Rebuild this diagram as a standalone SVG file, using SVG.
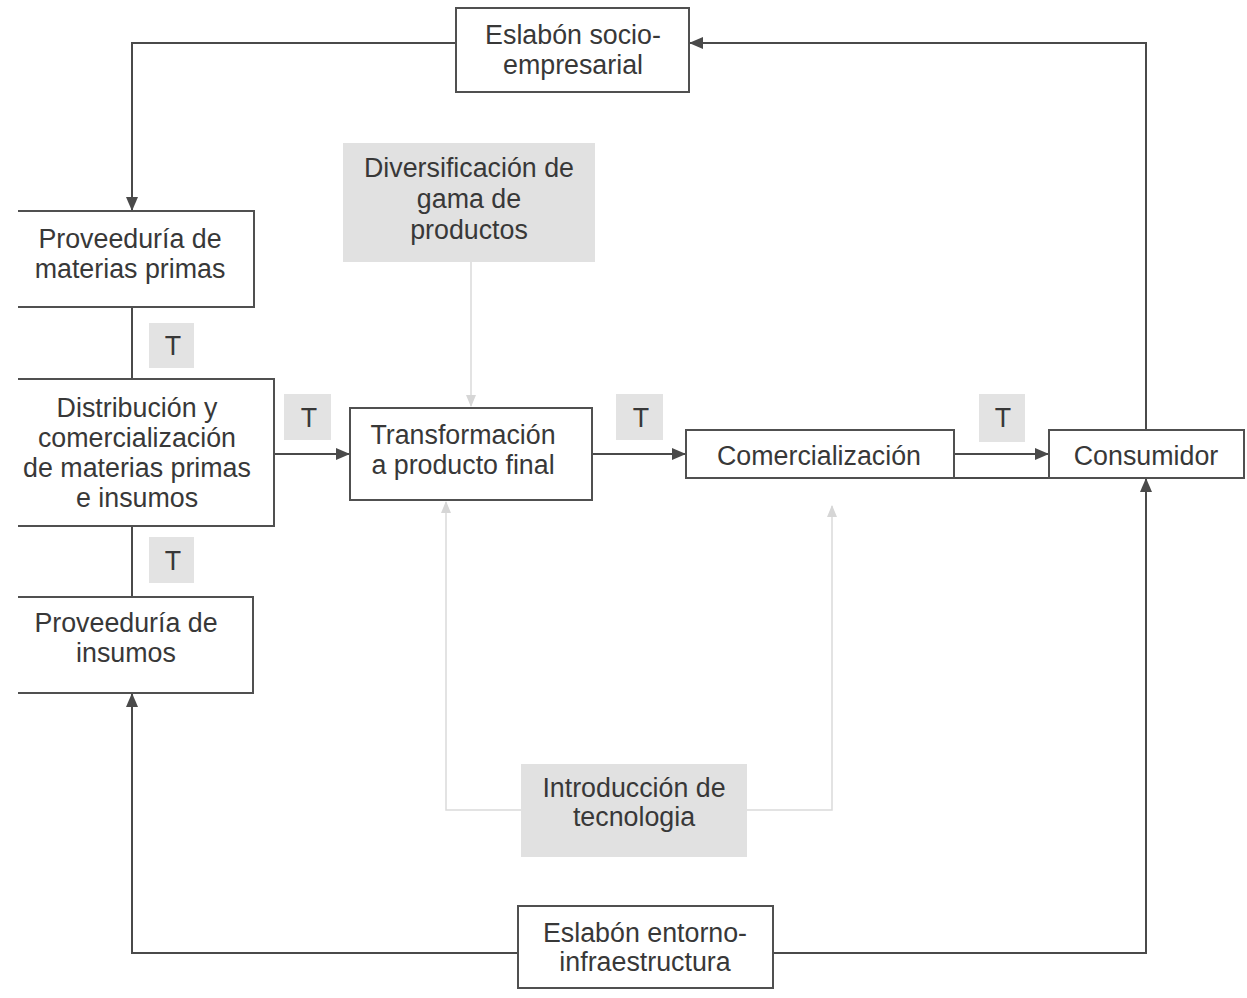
<svg xmlns="http://www.w3.org/2000/svg" width="1247" height="998" viewBox="0 0 1247 998">
<style>
  .box { fill: #ffffff; stroke: #505050; stroke-width: 2; }
  .gbox { fill: #e1e1e1; stroke: none; }
  .tbox { fill: #e3e3e3; stroke: none; }
  .txt { font-family: "Liberation Sans", Arial, sans-serif; font-size: 26.8px; fill: #383838; text-anchor: middle; }
  .conn { fill: none; stroke: #4a4a4a; stroke-width: 2; }
  .light { fill: none; stroke: #dadada; stroke-width: 1.5; }
</style>
<defs>
  <marker id="arr" markerWidth="14" markerHeight="12" refX="13" refY="6" orient="auto" markerUnits="userSpaceOnUse">
    <path d="M0,0 L14,6 L0,12 Z" fill="#4a4a4a"/>
  </marker>
  <marker id="arrL" markerWidth="12" markerHeight="10" refX="11" refY="5" orient="auto" markerUnits="userSpaceOnUse">
    <path d="M0,0 L12,5 L0,10 Z" fill="#d6d6d6"/>
  </marker>
</defs>
<rect width="1247" height="998" fill="#ffffff"/>

<g id="connectors">
  <path class="conn" d="M456,43 H132 V210" marker-end="url(#arr)"/>
  <path class="conn" d="M1146,430 V43 H690" marker-end="url(#arr)"/>
  <path class="conn" d="M132,307 V379"/>
  <path class="conn" d="M132,526 V597"/>
  <path class="conn" d="M518,953 H132 V694" marker-end="url(#arr)"/>
  <path class="conn" d="M773,953 H1146 V479" marker-end="url(#arr)"/>
  <path class="conn" d="M274,454 H349" marker-end="url(#arr)"/>
  <path class="conn" d="M592,454 H685" marker-end="url(#arr)"/>
  <path class="conn" d="M954,454 H1048" marker-end="url(#arr)"/>
  <path class="conn" d="M954,478 H1049" stroke-width="1.5"/>
  <path class="light" d="M471,262 V406" marker-end="url(#arrL)"/>
  <path class="light" d="M521,810 H446 V502" marker-end="url(#arrL)"/>
  <path class="light" d="M747,810 H832 V506" marker-end="url(#arrL)"/>
</g>

<g id="socio">
  <rect class="box" x="456" y="8" width="233" height="84"/>
  <text class="txt" x="573" y="44">Eslabón socio-</text>
  <text class="txt" x="573" y="74">empresarial</text>
</g>

<g id="diversificacion">
  <rect class="gbox" x="343" y="143" width="252" height="119"/>
  <text class="txt" x="469" y="177">Diversificación de</text>
  <text class="txt" x="469" y="208">gama de</text>
  <text class="txt" x="469" y="239">productos</text>
</g>

<g id="prov-materias">
  <path class="box" d="M18,211 H254 V307 H18"/>
  <text class="txt" x="130" y="248">Proveeduría de</text>
  <text class="txt" x="130" y="278">materias primas</text>
</g>

<g id="t1">
  <rect class="tbox" x="149" y="323" width="45" height="45"/>
  <text class="txt" x="173" y="355">T</text>
</g>

<g id="distribucion">
  <path class="box" d="M18,379 H274 V526 H18"/>
  <text class="txt" x="137" y="417">Distribución y</text>
  <text class="txt" x="137" y="447">comercialización</text>
  <text class="txt" x="137" y="477">de materias primas</text>
  <text class="txt" x="137" y="507">e insumos</text>
</g>

<g id="t2">
  <rect class="tbox" x="149" y="537" width="45" height="46"/>
  <text class="txt" x="173" y="570">T</text>
</g>

<g id="prov-insumos">
  <path class="box" d="M18,597 H253 V693 H18"/>
  <text class="txt" x="126" y="632">Proveeduría de</text>
  <text class="txt" x="126" y="662">insumos</text>
</g>

<g id="t3">
  <rect class="tbox" x="284" y="394" width="47" height="46"/>
  <text class="txt" x="309" y="427">T</text>
</g>

<g id="transformacion">
  <rect class="box" x="350" y="408" width="242" height="92"/>
  <text class="txt" x="463" y="444">Transformación</text>
  <text class="txt" x="463" y="474">a producto final</text>
</g>

<g id="t4">
  <rect class="tbox" x="616" y="394" width="47" height="46"/>
  <text class="txt" x="641" y="427">T</text>
</g>

<g id="comercializacion">
  <rect class="box" x="686" y="430" width="268" height="48"/>
  <text class="txt" x="819" y="465">Comercialización</text>
</g>

<g id="t5">
  <rect class="tbox" x="979" y="394" width="46" height="48"/>
  <text class="txt" x="1003" y="427">T</text>
</g>

<g id="consumidor">
  <rect class="box" x="1049" y="430" width="195" height="48"/>
  <text class="txt" x="1146" y="465">Consumidor</text>
</g>

<g id="introduccion">
  <rect class="gbox" x="521" y="764" width="226" height="93"/>
  <text class="txt" x="634" y="797">Introducción de</text>
  <text class="txt" x="634" y="826">tecnologia</text>
</g>

<g id="entorno">
  <rect class="box" x="518" y="906" width="255" height="82"/>
  <text class="txt" x="645" y="942">Eslabón entorno-</text>
  <text class="txt" x="645" y="971">infraestructura</text>
</g>
</svg>
